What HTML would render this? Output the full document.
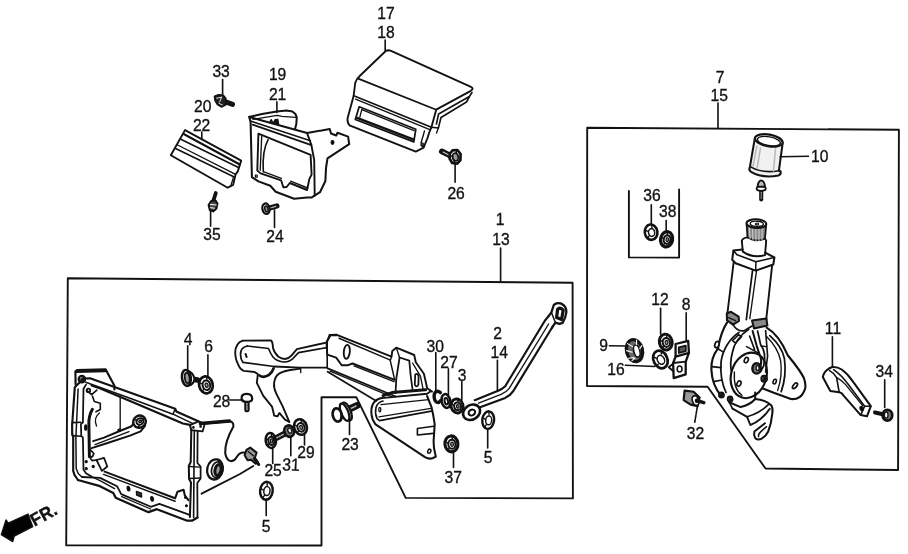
<!DOCTYPE html>
<html lang="en">
<head>
<meta charset="utf-8">
<title>Headlight retractor parts diagram</title>
<style>
html,body{margin:0;padding:0;background:#fff;}
body{width:908px;height:554px;overflow:hidden;}
svg{display:block;}
svg text{font-family:"Liberation Sans",sans-serif;fill:#111;stroke:#111;stroke-width:0.35;}
.ink{fill:none;stroke:#111;stroke-width:1.62;stroke-linecap:round;stroke-linejoin:round;}
</style>
</head>
<body>
<svg width="908" height="554" viewBox="0 0 908 554">
<rect x="0" y="0" width="908" height="554" fill="#fff"/>
<g class="ink" opacity="0.995">
<path d="M67.8,278.3 L572.6,282.8 L572.9,498.4 L405.7,497.9 L356.4,397.3 L321.5,397.3 L321.5,545.5 L66.2,545.3 Z" stroke-width="1.89"/>
<path d="M587.2,127.7 L898.9,129.8 L898.1,470.0 L765.5,468.5 L707.6,386.7 L587.0,386.0 Z" stroke-width="1.89"/>
<path d="M628.9,191.0 L628.9,257.4 L679.1,257.6 L679.1,189.5" stroke-width="1.89"/>
<line x1="500.6" y1="248.0" x2="500.6" y2="282.0"/>
<line x1="718.0" y1="103.0" x2="718.0" y2="128.0"/>
<path d="M185.0,130.1 L241.2,160.6 L237.8,171.4 L235.6,174.4 L233.1,185.0 L227.7,187.7 L170.8,155.2 Z" stroke-width="1.89"/>
<line x1="183.7" y1="134.0" x2="239.8" y2="164.5" stroke-width="2.03"/>
<line x1="180.3" y1="138.9" x2="238.5" y2="167.6"/>
<line x1="177.6" y1="145.0" x2="235.1" y2="174.1" stroke-width="1.35"/>
<line x1="175.6" y1="148.4" x2="233.7" y2="176.8"/>
<line x1="233.7" y1="176.8" x2="230.6" y2="186.4" stroke-width="1.35"/>
<path d="M249.2,116.9 L262.0,114.0 L276.8,111.5 L286.5,110.4 L292.4,111.4 L295.4,114.0 L296.8,117.4 L296.3,123.9 L295.2,128.4" stroke-width="2.03"/>
<path d="M253.0,119.3 L277.0,115.3 L282.0,116.3 L295.8,117.3" stroke-width="1.35"/>
<path d="M249.2,116.9 L307.1,133.1 L329.7,129.0 L331.0,133.5 L336.2,135.5 L337.5,132.8 L348.1,136.6 L349.2,144.2 L327.5,158.3 L326.0,168.0 L325.4,181.0 L320.0,192.2 L311.8,197.4 L307.1,197.6 L294.1,198.7 L275.7,191.7 L270.3,185.7 L258.4,181.4 L251.9,177.1 L250.6,122.0 L249.2,116.9" stroke-width="2.03"/>
<path d="M250.4,121.0 L310.4,140.7" stroke-width="1.49"/>
<path d="M252.6,124.6 L311.4,145.1" stroke-width="1.76"/>
<path d="M307.1,133.1 L311.4,145.1 L314.2,160.0 L314.7,195.5" stroke-width="1.89"/>
<path d="M258.4,133.7 L310.6,154.8 L311.6,174.6 L309.3,179.2 L307.1,190.0 L289.8,183.0 L286.6,187.0 L283.3,187.3 L281.1,180.3 L260.6,173.4 L257.3,170.6 Z" stroke-width="1.89"/>
<path d="M268.1,139.6 C264,147 262.6,160 263.3,171.7" stroke-width="1.62"/>
<path d="M263.3,171.7 L281.4,178.4" stroke-width="1.35"/>
<path d="M261.7,136.4 L260.2,170.2" stroke-width="1.35"/>
<path d="M290.6,181.2 L307.6,188.0" stroke-width="1.35"/>
<path d="M255.4,175.0 L257.2,175.0 L257.2,177.2 L255.4,177.2 Z" stroke-width="1.22"/>
<ellipse cx="332.5" cy="142.4" rx="1.3" ry="1.8" stroke-width="1.35" fill="#000"/>
<path d="M273.6,122.6 L275.2,119.6 L277.8,119.4 L278.6,123.8 Z" stroke-width="1.35" fill="#111"/>
<path d="M270.2,121.6 L271.2,119.8 L272.4,122.2" stroke-width="1.62"/>
<path d="M388.5,50.3 L386,50.8 L360.2,75.5 Q356.5,79 355.3,82.5 L353.6,96 L347.5,118.5 Q347.3,123 349.5,125.3 L415.8,151.6 L423.6,147.7 L427.5,138 L429.4,132 L431.4,127.3 L436.2,109.7 L470.8,90.8 Q474.6,88.5 470.4,86.7 L390.5,50.6 Z" stroke-width="1.89" fill="#fff"/>
<path d="M358.2,78.6 L436.2,109.7" stroke-width="1.76"/>
<path d="M354.4,96.0 L431.4,127.3" stroke-width="1.76"/>
<path d="M355.6,99.2 L430.4,129.8" stroke-width="1.35"/>
<path d="M472.0,92.5 L469.4,96.5 L438.6,114.0 L436.4,124.0" stroke-width="1.62"/>
<path d="M469.2,97.0 L466.5,102.0 L441.0,117.5 L438.4,128.0 L431.4,127.3" stroke-width="1.62"/>
<path d="M438.4,128.0 L436.5,133.0" stroke-width="1.35"/>
<path d="M359.2,106.8 L415.8,129.2 L413.8,141.9 L355.3,119.5 Z" stroke-width="1.76"/>
<path d="M361.8,109.6 L414.0,130.6" stroke-width="1.35"/>
<path d="M357.0,117.8 L413.2,139.4" stroke-width="2.43"/>
<path d="M361.8,109.6 L359.8,117.2" stroke-width="1.35"/>
<path d="M423.6,147.7 L421.0,143.0 L424.5,131.0" stroke-width="1.35"/>
<ellipse cx="422.2" cy="144.6" rx="1.2" ry="1.7" stroke-width="1.22" transform="rotate(20 422.2 144.6)"/>
<path d="M225.0,101.6 L232.6,104.4" stroke-width="4.86"/>
<path d="M214.6,96.4 L218.6,95.0 L223.0,95.2 L225.6,98.4 L225.8,104.6 L221.4,106.8 L217.6,104.4 L215.2,100.4 Z" stroke-width="1.89" fill="#222"/>
<path d="M216.6,98.2 L221.6,97.2 M221.6,97.2 L219.6,102 M219,103.4 L222.4,105" stroke="#ddd" stroke-width="1.0"/>
<path d="M215.8,193.0 L213.4,200.6" stroke-width="3.78"/>
<path d="M211.2,201.0 L215.6,200.6 L217.4,203.6 L216.4,208.6 L213.2,211.4 L209.8,210.0 L208.6,205.0 Z" stroke-width="2.03" fill="#444"/>
<path d="M210.4,204.4 L216.4,205.0 M210.6,207.6 L214.6,208.2" stroke="#eee" stroke-width="1.1"/>
<path d="M269.6,208.0 L276.8,206.0" stroke-width="5.40"/>
<path d="M270,208 L276.6,206.2" stroke="#bbb" stroke-width="1.3" stroke-dasharray="1.2 1.2"/>
<ellipse cx="266.0" cy="208.7" rx="3.6" ry="5.3" stroke-width="2.29" fill="#fff" transform="rotate(-12 266.0 208.7)"/>
<ellipse cx="266.4" cy="208.9" rx="1.6" ry="3.0" stroke-width="1.49" fill="#999" transform="rotate(-12 266.4 208.9)"/>
<path d="M451.6,156.2 L441.8,151.4" stroke-width="5.67"/>
<path d="M451,156 L442.2,151.6" stroke="#bbb" stroke-width="1.4" stroke-dasharray="1.2 1.3"/>
<path d="M452.6,150.4 L457.4,150.0 L460.6,154.0 L460.4,160.0 L457.2,163.6 L452.2,163.0 L449.6,158.6 L449.8,153.6 Z" stroke-width="2.70" fill="#fff"/>
<ellipse cx="455.4" cy="157.0" rx="2.9" ry="3.9" stroke-width="1.76" fill="#999" transform="rotate(-10 455.4 157.0)"/>
<path d="M450.4,155.6 L453,156.4 M456.6,150.6 L456.2,153.2 M453.6,162.6 L454.6,160.6" stroke-width="1.49"/>
<path d="M75.6,384.6 L75.4,371.6 L77.0,370.0 L105.7,369.4 L114.3,385.6 L114.4,389.5" stroke-width="2.16"/>
<path d="M76.6,371.4 L105.2,370.6" stroke-width="3.24"/>
<ellipse cx="81.9" cy="379.1" rx="3.2" ry="3.3" stroke-width="2.29" fill="#fff"/>
<ellipse cx="82.2" cy="379.3" rx="1.3" ry="1.4" stroke-width="1.35" fill="#888"/>
<ellipse cx="88.4" cy="390.4" rx="1.8" ry="1.8" stroke-width="1.76" fill="#fff"/>
<path d="M83.8,378.5 L90.0,378.3 L175.2,408.7 L176.3,411.4 L198.3,421.3" stroke-width="2.16"/>
<path d="M85.7,382.3 L130.0,398.2 L173.0,414.2 L193.0,423.6" stroke-width="1.49"/>
<path d="M91.6,385.4 L99.7,388.3 L130.0,401.0 L182.9,423.5 L189.9,424.9" stroke-width="2.16"/>
<path d="M175.2,408.7 L173.0,414.2" stroke-width="1.49"/>
<path d="M83.8,378.5 L76.5,385.6 L74.8,387.2 L72.4,421.5 L72.1,425.0 L72.2,434.5 L73.2,436.2 L73.2,470.9 L74.6,475.2 L78.0,480.0" stroke-width="2.16"/>
<path d="M78.1,389.0 L76.6,422.0 L75.9,437.0 L76.2,468.5 L78.2,473.5 L82.0,477.0" stroke-width="1.49"/>
<path d="M86.0,384.6 L83.5,388.8 L82.9,422.5 L80.9,424.2 L81.3,436.2 L82.9,437.4 L83.5,469.8 L86.0,473.2 L91.0,476.3" stroke-width="1.76"/>
<path d="M72.2,422.6 L80.9,422.2" stroke-width="1.62"/>
<path d="M72.3,435.6 L81.3,436.2" stroke-width="1.62"/>
<path d="M92.4,409.2 C89.6,414 88.6,420 88.9,425 L89.4,456.8" stroke-width="2.97"/>
<path d="M78.0,480.0 L100.0,486.2 L113.3,492.9 L115.7,497.7 L148.5,512.2 L156.9,509.2 L187.2,520.7 L192.4,520.6 L197.5,517.6" stroke-width="2.29"/>
<path d="M82.0,477.0 L100.0,477.9 L117.0,486.2 L121.2,494.1 L150.9,506.8 L159.4,503.8 L189.6,514.9" stroke-width="1.76"/>
<path d="M121.6,496.6 L150.6,509.0" stroke-width="1.35"/>
<path d="M91.0,476.3 L100.0,480.6 L114.6,488.6" stroke-width="1.35"/>
<path d="M104.6,471.6 L175.1,498.3 L177.5,491.7 L183.6,489.8 L184.8,495.3 L188.4,500.1" stroke-width="2.03"/>
<path d="M103.6,474.4 L175.1,501.3" stroke-width="1.49"/>
<ellipse cx="128.5" cy="488.6" rx="1.3" ry="2.3" stroke-width="1.35" fill="#000" transform="rotate(-10 128.5 488.6)"/>
<path d="M136.4,491.4 L141.4,493.2 L141.6,497.0 L136.6,495.0 Z" stroke-width="1.35" fill="#333"/>
<ellipse cx="152.1" cy="498.9" rx="1.3" ry="2.3" stroke-width="1.35" fill="#000" transform="rotate(-10 152.1 498.9)"/>
<ellipse cx="86.2" cy="461.7" rx="1.1" ry="1.1" stroke-width="1.08" fill="#000"/>
<ellipse cx="93.2" cy="466.5" rx="1.1" ry="1.1" stroke-width="1.08" fill="#000"/>
<ellipse cx="86.2" cy="468.7" rx="1.1" ry="1.1" stroke-width="1.08" fill="#000"/>
<ellipse cx="185.4" cy="497.6" rx="0.9" ry="0.9" stroke-width="1.08" fill="#000"/>
<ellipse cx="186.4" cy="505.8" rx="1.0" ry="1.0" stroke-width="1.08" fill="#000"/>
<path d="M189.9,424.9 L191.3,430.0 L190.7,462.0 L188.8,466.0 L189.1,479.0 L191.0,482.5 L189.9,517.0" stroke-width="2.03"/>
<path d="M194.3,431.0 L193.6,517.5" stroke-width="1.62"/>
<path d="M197.6,431.5 L197.4,463.0 L200.6,466.5 L200.6,478.5 L197.3,483.0 L197.5,517.6" stroke-width="1.76"/>
<path d="M189.2,466.5 L200.4,467.2" stroke-width="1.35"/>
<path d="M189.4,478.5 L200.4,478.0" stroke-width="1.35"/>
<path d="M189.8,425.2 L198.6,421.4 L203.0,423.2" stroke-width="1.89"/>
<path d="M191.0,430.2 L202.6,431.4 L204.4,425.2" stroke-width="1.76"/>
<ellipse cx="193.4" cy="427.4" rx="0.8" ry="0.8" stroke-width="1.08" fill="#000"/>
<ellipse cx="200.6" cy="426.4" rx="0.8" ry="0.8" stroke-width="1.08" fill="#000"/>
<path d="M93.2,441.1 L104.0,437.6 L120.4,430.8 L131.6,426.2 L134.6,421.5" stroke-width="2.03"/>
<path d="M91.6,448.1 L106.0,443.5 L130.0,435.6 L140.6,431.4 L145.2,425.6" stroke-width="2.03"/>
<path d="M95.0,444.6 L129.0,431.6" stroke-width="1.35"/>
<path d="M120.2,428.6 L117.6,430.0 L120.2,431.2" stroke-width="1.35"/>
<ellipse cx="139.5" cy="421.7" rx="6.4" ry="6.0" stroke-width="2.43" fill="#fff" transform="rotate(-30 139.5 421.7)"/>
<ellipse cx="139.9" cy="421.5" rx="3.6" ry="3.2" stroke-width="1.89" fill="#fff" transform="rotate(-30 139.9 421.5)"/>
<ellipse cx="140.2" cy="421.4" rx="1.4" ry="1.2" stroke-width="1.35" fill="#777" transform="rotate(-30 140.2 421.4)"/>
<path d="M134.4,419.4 L137,420.6 M138.4,427.4 L139.2,424.8 M144.4,418.2 L142.6,419.8" stroke-width="1.49"/>
<line x1="120.2" y1="395.8" x2="120.2" y2="430.1" stroke-width="1.35"/>
<path d="M86.8,390.5 L91.6,394.6 L96.8,390.2" stroke-width="1.76"/>
<path d="M92.5,396.2 L94.3,401.5 L100.3,403.3 L100.3,409.5 L96.0,411.8" stroke-width="1.62"/>
<path d="M99.5,413 C95.5,416 94.5,421 96.5,426" stroke-width="1.35"/>
<path d="M89.6,449.0 L93.8,453.5 L92.6,456.4 L90.0,457.6 L92.0,460.6 L96.5,460.0" stroke-width="1.76"/>
<path d="M96.5,460.0 L104.0,457.9 L107.3,466.5 L101.9,470.9 L96.5,460.0" stroke-width="1.76"/>
<ellipse cx="85.8" cy="427.6" rx="1.1" ry="2.6" stroke-width="1.35" fill="#000"/>
<path d="M203,423.8 L229,421.3 Q233.9,421.6 233.4,426.4 C228,436 224.8,445 225.2,453 C226.5,461.6 232.6,464 236.8,457 C239,453.2 241.6,452.2 244.4,452.6" stroke-width="2.03"/>
<path d="M200.5,423.6 L229.5,421.0" stroke-width="3.51"/>
<path d="M246.5,449.8 L250.2,447.6 L256.6,452.6 L254.8,458.0 L257.6,461.8 L255.6,463.8 L251.2,459.8 L247.6,460.2 L244.6,455.2 Z" stroke-width="2.03" fill="#999"/>
<path d="M254.5,458.5 L258.6,464.4" stroke-width="3.24"/>
<path d="M248.2,451.5 L253.4,455.8" stroke-width="1.35"/>
<path d="M253.3,466.0 L240.0,474.0 L201.6,493.7" stroke-width="1.89"/>
<ellipse cx="215.0" cy="469.4" rx="7.8" ry="10.2" stroke-width="2.29" fill="#fff" transform="rotate(12 215.0 469.4)"/>
<ellipse cx="217.0" cy="469.8" rx="5.4" ry="8.0" stroke-width="1.76" fill="#fff" transform="rotate(12 217.0 469.8)"/>
<ellipse cx="218.0" cy="470.0" rx="3.0" ry="5.6" stroke-width="2.97" fill="#999" transform="rotate(12 218.0 470.0)"/>
<path d="M242.7,340.6 L270.8,340.4 Q272.8,341.5 273,348.1 Q274.5,353.5 278.5,356.8 Q281.5,359 285,359 Q289,358.5 291.4,355.7 L296.9,349.2 L326.1,342.7 L330.4,335.4 L336.9,335.2" stroke-width="1.89"/>
<path d="M242.7,340.6 Q235.5,343 235.2,352.5 Q235.5,359.5 237.8,363.6 Q240,369.5 243.8,370.9 L254.6,372 L257.9,374.1 L256.8,382.8 L263.3,395.8 L272,406.6 L273.6,413 L274.1,415.6 L277.4,416.4 L279.5,413.1 L285,419.6 L289.3,421.8" stroke-width="1.89"/>
<path d="M289.3,421.8 L282.8,406.6 L276.3,393.6 Q273.5,388 274.1,382.8 Q275,376.5 278.5,374.1 Q282,371.5 289,370.2 L300.1,368.6" stroke-width="1.89"/>
<path d="M247.2,346 Q240.4,347.4 240.5,354.5 Q240.6,359.5 243,362.4 L274.1,366.5 L300.1,367.6 L327.2,367.6" stroke-width="1.76"/>
<path d="M247.2,346 L268.5,348.5 Q270.2,353 273,357 Q277,361.6 284,362 Q290.5,361.6 294,357.4 L298.5,352.6 L326.6,347.6" stroke-width="1.62"/>
<path d="M245.6,354.0 L246.6,357.0" stroke-width="2.03"/>
<path d="M259.5,375.5 Q263.5,378.2 268.6,375.2 Q272.6,372 273.6,368.4" stroke-width="2.70"/>
<line x1="327.2" y1="341.8" x2="327.2" y2="367.6" stroke-width="1.62"/>
<line x1="300.6" y1="367.6" x2="300.8" y2="372.6" stroke-width="1.35"/>
<path d="M329.7,334.9 L336.2,334.7 L391.5,356.7 L392.3,351.0 L396.3,347.7 L414.2,355.0 L415.8,362.3 L423.9,373.7 L427.2,388.3 L432.0,391.6" stroke-width="1.89"/>
<path d="M329.7,334.9 L326.5,342.9 L327.3,354.6 L336.2,357.6 L341.7,365.2 L348.1,365.2 L352.5,363.5 L394.7,379.8" stroke-width="1.89"/>
<path d="M339.0,338.2 L389.8,359.9" stroke-width="1.49"/>
<path d="M354.0,365.9 L394.0,381.7" stroke-width="1.35"/>
<path d="M327.6,368.4 L395.8,396.5" stroke-width="1.89"/>
<path d="M330.0,371.2 L392.0,396.8" stroke-width="1.35"/>
<path d="M327.6,371.7 L376.3,400.9" stroke-width="1.76"/>
<ellipse cx="346.8" cy="351.8" rx="3.0" ry="7.0" stroke-width="1.89" transform="rotate(6 346.8 351.8)"/>
<path d="M391.5,356.7 L390.2,360.4 L394.7,379.8" stroke-width="1.49"/>
<path d="M399.6,357.5 L409.3,360.7 L410.6,375.0 L412.6,390.0" stroke-width="1.76"/>
<path d="M399.6,357.5 L396.3,378.6 L395.5,393.2" stroke-width="1.76"/>
<path d="M396.3,347.7 L399.6,357.5" stroke-width="1.35"/>
<path d="M415.2,374.6 Q417.6,372.6 418.6,376.6 L418.4,384.6 Q416.6,388 414.8,384.6 Z" stroke-width="1.76"/>
<path d="M412.6,363.0 L420.4,376.2 L423.2,389.6" stroke-width="1.35"/>
<path d="M381.6,398.1 Q374.5,399.6 372.2,405.6 Q370.2,411.5 372.6,419.2 L375.2,424.1 L425,457.2 Q429.3,459.6 433,458 L435.8,456.6 L434,448 L433.6,441.4 L434.7,424.1 L433,414 L431.4,406.8 L427.1,396" stroke-width="2.03"/>
<path d="M381.6,398.1 L427.1,393.8 L430.4,391.4" stroke-width="1.89"/>
<path d="M383.0,395.6 L392.0,392.6 L425.6,389.8" stroke-width="2.97"/>
<path d="M383,401 Q377.6,402.2 376,407.6 Q374.6,413 377,418.6 L379.5,420.6 L431.4,411.1" stroke-width="1.62"/>
<path d="M381.0,404.6 L428.6,399.6" stroke-width="1.35"/>
<path d="M379.0,416.8 L431.0,408.4" stroke-width="1.35"/>
<ellipse cx="379.8" cy="409.6" rx="1.0" ry="2.2" stroke-width="1.35"/>
<path d="M433.6,426.3 L417.4,428.5 L417.4,435.0 L433.4,433.4" stroke-width="1.62"/>
<ellipse cx="429.3" cy="451.2" rx="1.5" ry="2.1" stroke-width="1.49" transform="rotate(20 429.3 451.2)"/>
<path d="M474.7,400.2 L498.1,390.8 Q502.6,388.8 505.2,386.2 L545,320.5 L548.4,316.4" stroke-width="2.16"/>
<path d="M479.4,407.6 L505.2,397.9 Q510.6,395.2 513.4,390.8 L552.1,327.5" stroke-width="2.16"/>
<path d="M478.6,403.2 L501,394.4 Q506.6,392 509.2,388.4 L548.6,324" stroke-width="1.35"/>
<ellipse cx="471.6" cy="412.3" rx="9.0" ry="7.2" stroke-width="2.56" fill="#fff" transform="rotate(-32 471.6 412.3)"/>
<ellipse cx="471.9" cy="412.6" rx="3.4" ry="2.8" stroke-width="2.03" transform="rotate(-32 471.9 412.6)"/>
<path d="M548.4,316.4 L551.4,312.4 L553.8,305.0 Q556.2,302.2 560.6,303.4 Q566.8,306 566.3,312.6 Q565.6,318.4 562.6,322.8 L559.4,323.8 L555.4,322.6 L552.1,327.5" stroke-width="2.29"/>
<path d="M557.6,309.2 Q560.6,307.0 563.2,310.2 L561.6,319.6 L556.6,317.6 Z" stroke-width="3.24"/>
<path d="M551.4,312.4 L555.4,322.6" stroke-width="1.49"/>
<path d="M190.0,378.6 L197.6,380.0" stroke-width="5.40"/>
<path d="M186.6,370.2 Q193.6,372.6 194.4,378.6 Q194.2,384.6 187.6,385.8" stroke-width="2.03" fill="#fff"/>
<ellipse cx="186.4" cy="377.9" rx="4.4" ry="8.0" stroke-width="2.56" fill="#fff" transform="rotate(-8 186.4 377.9)"/>
<ellipse cx="187.2" cy="378.0" rx="2.4" ry="5.2" stroke-width="1.76" fill="#999" transform="rotate(-8 187.2 378.0)"/>
<ellipse cx="205.9" cy="384.9" rx="6.8" ry="8.5" stroke-width="2.70" fill="#fff" transform="rotate(-12 205.9 384.9)"/>
<ellipse cx="206.4" cy="385.2" rx="3.8" ry="4.8" stroke-width="2.03" fill="#fff" transform="rotate(-12 206.4 385.2)"/>
<ellipse cx="206.6" cy="385.3" rx="1.5" ry="2.2" stroke-width="1.22" fill="#999" transform="rotate(-12 206.6 385.3)"/>
<path d="M199.8,382.8 L202.5,384.0 M202.2,391.3 L203.9,389.1 M206.6,376.8 L206.9,379.8" stroke-width="1.35"/>
<path d="M246.9,402.0 L247.0,409.6" stroke-width="5.40"/>
<path d="M246.9,403.5 L247,409.5" stroke="#ccc" stroke-width="1.3" stroke-dasharray="1.2 1.4"/>
<path d="M241.6,399.0 Q241.0,393.8 246.6,393.8 Q252.4,393.8 252.2,399.0 Q252.0,401.8 246.9,401.8 Q242.0,402.0 241.6,399.0 Z" stroke-width="2.29" fill="#fff"/>
<ellipse cx="270.8" cy="440.5" rx="5.1" ry="7.5" stroke-width="2.56" fill="#fff" transform="rotate(-8 270.8 440.5)"/>
<ellipse cx="271.3" cy="440.8" rx="2.9" ry="4.2" stroke-width="2.03" fill="#fff" transform="rotate(-8 271.3 440.8)"/>
<ellipse cx="271.5" cy="440.9" rx="1.1" ry="2.0" stroke-width="1.22" fill="#999" transform="rotate(-8 271.5 440.9)"/>
<path d="M266.2,438.6 L268.2,439.8 M268.0,446.1 L269.3,444.2 M271.3,433.4 L271.6,436.0" stroke-width="1.35"/>
<path d="M286.0,433.0 L275.6,438.4" stroke-width="5.94"/>
<path d="M285,433.5 L276,438.2" stroke="#bbb" stroke-width="1.4" stroke-dasharray="1.3 1.3"/>
<ellipse cx="289.2" cy="431.1" rx="4.8" ry="5.8" stroke-width="2.70" fill="#777" transform="rotate(-20 289.2 431.1)"/>
<ellipse cx="289.8" cy="430.6" rx="2.0" ry="2.6" stroke-width="1.35" fill="#ddd" transform="rotate(-20 289.8 430.6)"/>
<ellipse cx="300.5" cy="427.0" rx="6.3" ry="7.9" stroke-width="2.56" fill="#fff" transform="rotate(-18 300.5 427.0)"/>
<ellipse cx="301.0" cy="427.3" rx="3.5" ry="4.4" stroke-width="2.03" fill="#fff" transform="rotate(-18 301.0 427.3)"/>
<ellipse cx="301.2" cy="427.4" rx="1.4" ry="2.1" stroke-width="1.22" fill="#999" transform="rotate(-18 301.2 427.4)"/>
<path d="M294.8,425.0 L297.4,426.2 M297.0,432.9 L298.6,430.9 M301.1,419.5 L301.4,422.3" stroke-width="1.35"/>
<ellipse cx="266.4" cy="490.8" rx="6.3" ry="9.0" stroke-width="2.43" fill="#fff" transform="rotate(6 266.4 490.8)"/>
<ellipse cx="266.9" cy="491.1" rx="3.1" ry="4.5" stroke-width="1.49" fill="#fff" transform="rotate(6 266.9 491.1)"/>
<path d="M260.7,488.6 L263.2,489.9 M262.9,497.6 L264.5,495.3 M267.0,482.2 L267.3,485.4" stroke-width="1.35"/>
<path d="M349.0,409.2 L357.2,405.4" stroke-width="7.02"/>
<path d="M350,408.8 L357,405.6" stroke="#bbb" stroke-width="1.6" stroke-dasharray="1.3 1.3"/>
<ellipse cx="347.0" cy="411.4" rx="3.6" ry="9.4" stroke-width="2.29" fill="#fff" transform="rotate(-22 347.0 411.4)"/>
<ellipse cx="344.6" cy="412.2" rx="3.6" ry="9.2" stroke-width="2.29" fill="#fff" transform="rotate(-22 344.6 412.2)"/>
<ellipse cx="337.2" cy="414.9" rx="4.5" ry="6.7" stroke-width="2.70" fill="#fff" transform="rotate(-12 337.2 414.9)"/>
<path d="M339.4,409.4 Q342.4,413.6 340.6,420" stroke-width="1.62"/>
<path d="M440.4,392.6 C436.6,389.2 433.6,392.6 434.2,397.4 C434.8,402.6 438.4,404 440.6,400.6" stroke-width="3.38"/>
<ellipse cx="446.0" cy="401.0" rx="4.3" ry="7.0" stroke-width="2.56" fill="#fff" transform="rotate(-12 446.0 401.0)"/>
<ellipse cx="446.3" cy="401.2" rx="1.7" ry="3.2" stroke-width="2.03" fill="#fff" transform="rotate(-12 446.3 401.2)"/>
<ellipse cx="457.1" cy="406.0" rx="6.0" ry="7.0" stroke-width="2.84" fill="#fff" transform="rotate(-15 457.1 406.0)"/>
<ellipse cx="457.6" cy="406.3" rx="3.4" ry="3.9" stroke-width="2.03" fill="#fff" transform="rotate(-15 457.6 406.3)"/>
<ellipse cx="457.8" cy="406.4" rx="1.3" ry="1.8" stroke-width="1.22" fill="#999" transform="rotate(-15 457.8 406.4)"/>
<path d="M451.7,404.2 L454.1,405.3 M453.8,411.2 L455.3,409.5 M457.7,399.4 L458.0,401.8" stroke-width="1.35"/>
<ellipse cx="488.2" cy="420.1" rx="5.9" ry="8.8" stroke-width="2.43" fill="#fff" transform="rotate(6 488.2 420.1)"/>
<ellipse cx="488.7" cy="420.4" rx="3.0" ry="4.4" stroke-width="1.49" fill="#fff" transform="rotate(6 488.7 420.4)"/>
<path d="M482.9,417.9 L485.2,419.2 M485.0,426.7 L486.4,424.5 M488.8,411.7 L489.1,414.8" stroke-width="1.35"/>
<ellipse cx="451.4" cy="443.9" rx="6.5" ry="8.0" stroke-width="3.10" fill="#fff" transform="rotate(-5 451.4 443.9)"/>
<ellipse cx="451.9" cy="444.2" rx="3.6" ry="4.5" stroke-width="2.03" fill="#fff" transform="rotate(-5 451.9 444.2)"/>
<ellipse cx="452.1" cy="444.3" rx="1.4" ry="2.1" stroke-width="1.22" fill="#999" transform="rotate(-5 452.1 444.3)"/>
<path d="M445.5,441.9 L448.1,443.1 M447.8,449.9 L449.4,447.9 M452.0,436.3 L452.4,439.1" stroke-width="1.35"/>
<path d="M754.9,137.9 L749.9,166.9 Q748.4,169.6 750.6,171.6 Q762,178.6 778.6,175.4 Q781.4,174 780.6,171.2 L778.9,170.7 L782.7,142.9" stroke-width="2.03" fill="#f1f1f1"/>
<path d="M750.2,166.6 Q762,173.8 778.9,170.7" stroke-width="1.62"/>
<ellipse cx="768.8" cy="140.4" rx="14.0" ry="5.9" stroke-width="2.16" fill="#fff" transform="rotate(10 768.8 140.4)"/>
<ellipse cx="768.9" cy="141.2" rx="11.6" ry="4.4" stroke-width="1.35" transform="rotate(10 768.9 141.2)"/>
<path d="M757,146 L753,166 M760.5,148 L757,168.5 M775.5,149 L773.5,171" stroke="#bbb" stroke-width="1.6" fill="none"/>
<path d="M761.2,187.5 L761.2,199.5" stroke-width="4.05"/>
<path d="M761.2,190 L761.2,199" stroke="#bbb" stroke-width="1.0" stroke-dasharray="1.2 1.2"/>
<ellipse cx="761.2" cy="188.6" rx="4.6" ry="2.3" stroke-width="1.76" fill="#fff"/>
<path d="M757.6,186.6 Q758,181.2 761.2,180.4 Q764.6,181 765,186.8 Z" stroke-width="1.89" fill="#bbb"/>
<path d="M746.6,224.2 L747.5,237.5 Q756,242.6 765,238.7 L766.2,224.6 Z" stroke-width="1.76" fill="#888"/>
<path d="M749.5,228 L750,239 M752.6,229 L753,240.4 M755.8,229.4 L756,240.8 M759,229.4 L759,240.6 M762.2,228.8 L762,239.8" stroke="#ddd" stroke-width="0.9"/>
<ellipse cx="756.4" cy="223.6" rx="9.9" ry="4.3" stroke-width="2.03" fill="#fff" transform="rotate(3 756.4 223.6)"/>
<ellipse cx="756.8" cy="223.8" rx="6.6" ry="2.6" stroke-width="1.35" transform="rotate(3 756.8 223.8)"/>
<ellipse cx="757.0" cy="223.9" rx="1.6" ry="0.9" stroke-width="1.22"/>
<path d="M741.8,240.6 L742.8,251.6 Q753,258.6 765,255.1 L766.2,241" stroke-width="1.89"/>
<path d="M741.8,240.6 Q743,238 747.4,237.4" stroke-width="1.62"/>
<path d="M766.2,241 Q765.8,239.4 765,238.7" stroke-width="1.62"/>
<path d="M742.6,249.4 L733.4,250.6 L732.2,259.8 L735.6,263.2 L755.7,270.6 L773.3,264.5 L774.4,257.5 L765.2,252.6" stroke-width="2.03"/>
<path d="M733.4,250.6 L737,254.8 L755.9,261.8 L774.4,257.5" stroke-width="1.62"/>
<path d="M755.9,261.8 L755.7,270.6" stroke-width="1.49"/>
<path d="M733.6,262.6 L727.5,312.6" stroke-width="1.89"/>
<path d="M752.6,270.0 L746.3,319.6" stroke-width="1.76"/>
<path d="M756.6,270.2 L749.8,318.6" stroke-width="1.35"/>
<path d="M772.1,265.7 L766.2,319.6" stroke-width="1.89"/>
<path d="M726.8,313.5 L731.0,311.8 L738.6,316.6 L739.0,321.0 L733.0,324.6 L727.0,320.4 Z" stroke-width="2.03" fill="#888"/>
<path d="M728.6,317.6 L735.6,320.6" stroke-width="1.35"/>
<path d="M752.0,320.4 L766.4,318.6 L767.4,325.6 L754.0,328.4 Z" stroke-width="2.03" fill="#888"/>
<path d="M727,322.6 C722,330 719.5,340 717.9,348.7 C713,355 711,362 711.4,370 C711.8,380 714.6,388 721.1,395.7" stroke-width="2.16"/>
<path d="M739,332.5 C730,338 722.5,350 721.1,361.7 C720.2,372 722,384 726,392.5" stroke-width="1.76"/>
<path d="M748.7,329.2 C740,335 734,344 732.5,352 C730.4,360 730.4,368 731.7,373" stroke-width="1.76"/>
<path d="M733,324.6 C735.6,329 739.6,331.6 744.6,330.6 L752,326" stroke-width="1.76"/>
<path d="M717.9,348.7 L722.6,351.6 M711.8,366.6 L721,367.6 M713.6,381.6 L722,380" stroke-width="1.62"/>
<ellipse cx="716.9" cy="344.6" rx="2.0" ry="3.2" stroke-width="1.76" fill="#fff" transform="rotate(20 716.9 344.6)"/>
<path d="M732.5,340.6 L738.6,334.6 L741.6,336.6 L735.6,343 Z" stroke-width="1.62"/>
<path d="M766.6,327.6 C776,333 783,344 787.7,355.2 C795,364 801,372 803.9,378 C806,384 805.6,389 803.9,391.6 C801.6,397 797.4,399.6 790.9,399 L773.1,392.5 L758.5,386.8" stroke-width="2.16"/>
<path d="M769.8,335.7 C778,343 783,352 784.4,358.5 C786,370 784.6,382 781.2,391.6" stroke-width="1.76"/>
<path d="M766.6,336.6 C774,344 779,353 780.6,360.5 C782,371 780.6,382 777.6,390.6" stroke-width="1.35"/>
<ellipse cx="774.7" cy="381.6" rx="1.5" ry="2.4" stroke-width="1.62" transform="rotate(20 774.7 381.6)"/>
<ellipse cx="795.0" cy="385.8" rx="1.7" ry="3.3" stroke-width="1.76" transform="rotate(40 795.0 385.8)"/>
<ellipse cx="748.8" cy="375.4" rx="17.6" ry="23.2" stroke-width="2.16" fill="#fff" transform="rotate(17 748.8 375.4)"/>
<path d="M734.4,372 C733.6,383 736.6,391.6 742,395.4" stroke-width="1.35"/>
<ellipse cx="746.3" cy="360.1" rx="1.9" ry="2.8" stroke-width="1.62" transform="rotate(25 746.3 360.1)"/>
<ellipse cx="739.0" cy="383.6" rx="1.9" ry="2.8" stroke-width="1.62" transform="rotate(25 739.0 383.6)"/>
<ellipse cx="756.6" cy="368.4" rx="4.2" ry="5.2" stroke-width="2.43" fill="#777"/>
<ellipse cx="757.6" cy="368.0" rx="1.6" ry="2.4" stroke-width="1.35" fill="#fff"/>
<path d="M752.6,331 L756.6,345.6 L759.6,354.6 C761.6,359 761.6,364 759.6,367.6" stroke-width="2.03"/>
<path d="M757.6,331 L760.6,344.6 C764.6,350 765.6,358 763.6,366 L760.6,371.6" stroke-width="1.76"/>
<path d="M749.6,336 L754.6,349.6 M746.6,346.6 L757.6,352.6 M765.6,330.6 L767.6,356 L765.6,372" stroke-width="1.62"/>
<path d="M761,346 L766.6,346.6" stroke-width="1.35"/>
<ellipse cx="764.1" cy="378.8" rx="2.8" ry="3.0" stroke-width="1.89" fill="#fff"/>
<ellipse cx="764.9" cy="379.3" rx="2.0" ry="2.1" stroke-width="1.35" fill="#bbb"/>
<ellipse cx="764.9" cy="379.3" rx="0.8" ry="0.9" stroke-width="1.62" fill="#fff"/>
<ellipse cx="721.3" cy="394.9" rx="2.4" ry="2.6" stroke-width="1.76" fill="#fff"/>
<ellipse cx="722.1" cy="395.4" rx="1.9" ry="2.0" stroke-width="1.35" fill="#bbb"/>
<ellipse cx="722.1" cy="395.4" rx="0.7" ry="0.8" stroke-width="1.62" fill="#fff"/>
<ellipse cx="730.0" cy="399.0" rx="2.4" ry="2.6" stroke-width="1.76" fill="#fff"/>
<ellipse cx="730.8" cy="399.5" rx="1.9" ry="2.0" stroke-width="1.35" fill="#bbb"/>
<ellipse cx="730.8" cy="399.5" rx="0.7" ry="0.8" stroke-width="1.62" fill="#fff"/>
<path d="M729.2,402.2 L740.6,407.1 C747,405.6 752,402.6 755.2,399 L755.2,392.5" stroke-width="2.03"/>
<path d="M755.2,399 C762,399.6 768,402 771.4,405.5 C772.8,408 772.8,411 772.3,413.6 C771.6,421 770,427 768.2,431.5 C766.6,435 764.6,437 761.7,438.6 C759,440 756,439.6 755.2,438 C754,436 753.8,433.6 754.4,431.5 L765,423.3" stroke-width="2.03"/>
<path d="M732.5,408.7 L747.1,416.8 L750.3,425 C757,423 765,416 769.8,408.7" stroke-width="1.89"/>
<path d="M729.2,402.2 L732.5,408.7 M747.1,416.8 C755,414.6 763,410 768.6,404.4" stroke-width="1.62"/>
<path d="M758.6,436.6 C757.6,434.6 759,432.6 766.6,426.6" stroke-width="1.49"/>
<ellipse cx="651.1" cy="232.2" rx="6.3" ry="7.7" stroke-width="2.56" fill="#fff" transform="rotate(-8 651.1 232.2)"/>
<ellipse cx="651.6" cy="232.5" rx="3.1" ry="3.9" stroke-width="1.49" fill="#fff" transform="rotate(-8 651.6 232.5)"/>
<path d="M645.4,230.3 L648.0,231.4 M647.6,238.0 L649.2,236.0 M651.7,224.9 L652.0,227.6" stroke-width="1.35"/>
<ellipse cx="666.6" cy="239.3" rx="6.0" ry="7.7" stroke-width="3.24" fill="#fff" transform="rotate(12 666.6 239.3)"/>
<ellipse cx="667.1" cy="239.6" rx="3.4" ry="4.3" stroke-width="2.03" fill="#fff" transform="rotate(12 667.1 239.6)"/>
<ellipse cx="667.3" cy="239.7" rx="1.3" ry="2.0" stroke-width="1.22" fill="#999" transform="rotate(12 667.3 239.7)"/>
<path d="M661.2,237.4 L663.6,238.5 M663.3,245.1 L664.8,243.2 M667.2,232.0 L667.5,234.7" stroke-width="1.35"/>
<ellipse cx="665.8" cy="342.1" rx="6.4" ry="8.0" stroke-width="2.97" fill="#fff" transform="rotate(-10 665.8 342.1)"/>
<ellipse cx="666.3" cy="342.4" rx="3.6" ry="4.5" stroke-width="2.03" fill="#fff" transform="rotate(-10 666.3 342.4)"/>
<ellipse cx="666.5" cy="342.5" rx="1.4" ry="2.1" stroke-width="1.22" fill="#999" transform="rotate(-10 666.5 342.5)"/>
<path d="M660.0,340.1 L662.6,341.3 M662.3,348.1 L663.9,346.1 M666.4,334.5 L666.8,337.3" stroke-width="1.35"/>
<ellipse cx="660.4" cy="359.5" rx="6.9" ry="9.2" stroke-width="2.70" fill="#fff" transform="rotate(-25 660.4 359.5)"/>
<ellipse cx="660.9" cy="359.8" rx="3.5" ry="4.6" stroke-width="1.49" fill="#fff" transform="rotate(-25 660.9 359.8)"/>
<path d="M654.2,357.2 L656.9,358.6 M656.6,366.4 L658.3,364.1 M661.1,350.8 L661.4,354.0" stroke-width="1.35"/>
<ellipse cx="634.5" cy="350.6" rx="8.0" ry="11.2" stroke-width="3.24" fill="#666" transform="rotate(-14 634.5 350.6)"/>
<ellipse cx="636.8" cy="351.0" rx="3.0" ry="6.2" stroke-width="1.62" fill="#fff" transform="rotate(-14 636.8 351.0)"/>
<path d="M627.5,343.6 L632.6,346.6 M626.6,350.6 L632.2,352.2 M628.6,358.2 L633.6,357.6 M636.6,340 L636.4,344.6 M641.8,345.6 L639.8,348.6 M632,360.6 L635,358" stroke="#fff" stroke-width="1.1"/>
<path d="M675.6,344.0 L688.2,340.9 L688.9,352.9 L675.6,356.6 Z" stroke-width="2.29" fill="#fff"/>
<path d="M678.8,347.4 L685.8,345.6 L685.8,351.2 L678.8,353.0 Z" stroke-width="1.76" fill="#555"/>
<path d="M675.6,356.6 L673.1,363.0 L673.7,378.1 L685.7,374.3 L685.7,361.7 L688.9,352.9" stroke-width="2.29"/>
<path d="M673.1,363.0 L685.7,361.7" stroke-width="1.76"/>
<ellipse cx="679.6" cy="369.0" rx="2.4" ry="3.0" stroke-width="1.62"/>
<path d="M673.1,363.6 L668.8,367.2 L673.4,371.4" stroke-width="1.89"/>
<path d="M684.6,390.6 L693.6,391.8 L699.6,397.6 L697.6,406.2 L690.6,404.6 L683.6,400.2 Z" stroke-width="2.16" fill="#999"/>
<ellipse cx="695.6" cy="400.6" rx="3.2" ry="5.0" stroke-width="1.76" fill="#fff" transform="rotate(-20 695.6 400.6)"/>
<path d="M697.0,400.6 L703.8,402.6" stroke-width="3.51"/>
<ellipse cx="696.6" cy="400.8" rx="1.2" ry="1.6" stroke-width="1.35" fill="#000"/>
<path d="M875.0,412.4 L884.0,414.4" stroke-width="4.05"/>
<ellipse cx="887.4" cy="415.2" rx="4.8" ry="5.4" stroke-width="2.70" fill="#777"/>
<ellipse cx="886.2" cy="415.0" rx="1.8" ry="3.2" stroke-width="1.35" fill="#fff"/>
<path d="M822.8,377.1 Q824,370.5 831.6,367.2 Q837,366.6 841.7,369.5 Q848,374 853,381.6 L870.8,406.2 L867,416.3 L860.7,415.1 L843.6,395.6 Q841.6,392.6 839.2,392.3 L830.3,391 Z" stroke-width="2.03" fill="#fff"/>
<path d="M829.6,370.6 Q833.6,372.6 836.6,377.6 L839.2,392.3" stroke-width="1.62"/>
<path d="M833.6,369.6 Q842,375.6 847.6,383.6 L864.6,406.2 L860.7,415.1" stroke-width="1.62"/>
<path d="M836.6,377.6 Q841,379.6 845.6,384.6 L862.6,405.6" stroke-width="1.35"/>
<path d="M864.6,406.2 L870.8,406.2" stroke-width="1.35"/>
<ellipse cx="861.6" cy="408.6" rx="1.5" ry="2.2" stroke-width="1.35" fill="#000" transform="rotate(-20 861.6 408.6)"/>
<path d="M1.3,534.7 L6.0,520.0 L8.3,523.2 L28.0,514.0 L32.7,526.7 L14.2,536.2 L12.7,541.6 Z" stroke-width="1.35" fill="#000"/>
<text transform="translate(34.6,526.8) rotate(-29)" font-size="18" font-weight="bold" stroke-width="0.9" textLength="27.5" lengthAdjust="spacingAndGlyphs">FR.</text>
<text transform="translate(386.0,18.5) scale(0.9,1)" font-size="17.4" text-anchor="middle">17</text>
<text transform="translate(386.0,37.6) scale(0.9,1)" font-size="17.4" text-anchor="middle">18</text>
<line x1="385.2" y1="40.0" x2="385.2" y2="50.5"/>
<text transform="translate(221.1,77.2) scale(0.9,1)" font-size="17.4" text-anchor="middle">33</text>
<line x1="222.6" y1="79.5" x2="222.6" y2="94.0"/>
<text transform="translate(277.6,80.2) scale(0.9,1)" font-size="17.4" text-anchor="middle">19</text>
<text transform="translate(277.6,99.6) scale(0.9,1)" font-size="17.4" text-anchor="middle">21</text>
<line x1="276.9" y1="101.9" x2="276.9" y2="112.5"/>
<text transform="translate(202.8,112.4) scale(0.9,1)" font-size="17.4" text-anchor="middle">20</text>
<text transform="translate(201.6,131.4) scale(0.9,1)" font-size="17.4" text-anchor="middle">22</text>
<line x1="201.8" y1="132.0" x2="201.8" y2="139.6"/>
<text transform="translate(211.9,240.3) scale(0.9,1)" font-size="17.4" text-anchor="middle">35</text>
<line x1="210.6" y1="211.0" x2="210.6" y2="226.3"/>
<text transform="translate(275.0,242.3) scale(0.9,1)" font-size="17.4" text-anchor="middle">24</text>
<line x1="274.5" y1="209.8" x2="274.5" y2="227.5"/>
<text transform="translate(456.1,199.0) scale(0.9,1)" font-size="17.4" text-anchor="middle">26</text>
<line x1="455.1" y1="163.9" x2="455.1" y2="182.3"/>
<text transform="translate(500.0,225.4) scale(0.9,1)" font-size="17.4" text-anchor="middle">1</text>
<text transform="translate(501.0,245.2) scale(0.9,1)" font-size="17.4" text-anchor="middle">13</text>
<text transform="translate(720.0,82.8) scale(0.9,1)" font-size="17.4" text-anchor="middle">7</text>
<text transform="translate(719.2,101.3) scale(0.9,1)" font-size="17.4" text-anchor="middle">15</text>
<text transform="translate(819.8,162.4) scale(0.9,1)" font-size="17.4" text-anchor="middle">10</text>
<line x1="780.2" y1="156.8" x2="808.5" y2="156.3"/>
<text transform="translate(651.9,201.4) scale(0.9,1)" font-size="17.4" text-anchor="middle">36</text>
<line x1="651.3" y1="204.7" x2="651.3" y2="223.5"/>
<text transform="translate(667.8,216.8) scale(0.9,1)" font-size="17.4" text-anchor="middle">38</text>
<line x1="666.2" y1="220.6" x2="666.2" y2="232.5"/>
<text transform="translate(660.0,304.8) scale(0.9,1)" font-size="17.4" text-anchor="middle">12</text>
<line x1="660.6" y1="308.2" x2="660.6" y2="334.1"/>
<text transform="translate(686.0,310.4) scale(0.9,1)" font-size="17.4" text-anchor="middle">8</text>
<line x1="686.2" y1="312.9" x2="686.2" y2="340.6"/>
<text transform="translate(603.5,350.6) scale(0.9,1)" font-size="17.4" text-anchor="middle">9</text>
<line x1="609.4" y1="345.7" x2="626.0" y2="346.0"/>
<text transform="translate(616.0,374.7) scale(0.9,1)" font-size="17.4" text-anchor="middle">16</text>
<line x1="625.3" y1="365.2" x2="654.9" y2="366.5"/>
<text transform="translate(695.5,439.0) scale(0.9,1)" font-size="17.4" text-anchor="middle">32</text>
<line x1="697.3" y1="406.8" x2="694.7" y2="422.7" stroke-dasharray="3 1.2"/>
<text transform="translate(833.0,333.7) scale(0.9,1)" font-size="17.4" text-anchor="middle">11</text>
<line x1="832.4" y1="336.7" x2="832.4" y2="367.0"/>
<text transform="translate(884.2,377.2) scale(0.9,1)" font-size="17.4" text-anchor="middle">34</text>
<line x1="884.7" y1="379.7" x2="884.7" y2="407.5"/>
<text transform="translate(188.0,345.2) scale(0.9,1)" font-size="17.4" text-anchor="middle">4</text>
<line x1="187.7" y1="345.9" x2="187.7" y2="369.8"/>
<text transform="translate(208.5,352.3) scale(0.9,1)" font-size="17.4" text-anchor="middle">6</text>
<line x1="207.9" y1="354.7" x2="207.9" y2="376.2"/>
<text transform="translate(221.6,407.2) scale(0.9,1)" font-size="17.4" text-anchor="middle">28</text>
<line x1="229.4" y1="400.0" x2="242.8" y2="400.0"/>
<text transform="translate(273.1,476.4) scale(0.9,1)" font-size="17.4" text-anchor="middle">25</text>
<line x1="272.7" y1="447.0" x2="272.7" y2="463.4"/>
<text transform="translate(290.8,470.6) rotate(3) scale(0.9,1)" font-size="17.4" text-anchor="middle">31</text>
<line x1="290.8" y1="437.4" x2="290.8" y2="455.8"/>
<text transform="translate(305.9,458.2) scale(0.9,1)" font-size="17.4" text-anchor="middle">29</text>
<line x1="304.5" y1="433.0" x2="304.5" y2="445.0"/>
<text transform="translate(266.0,531.8) scale(0.9,1)" font-size="17.4" text-anchor="middle">5</text>
<line x1="266.2" y1="499.0" x2="266.2" y2="515.6"/>
<text transform="translate(350.1,450.4) scale(0.9,1)" font-size="17.4" text-anchor="middle">23</text>
<line x1="349.5" y1="417.0" x2="349.5" y2="434.6"/>
<text transform="translate(435.3,351.5) scale(0.9,1)" font-size="17.4" text-anchor="middle">30</text>
<line x1="435.8" y1="352.5" x2="435.8" y2="391.4"/>
<text transform="translate(449.0,368.2) scale(0.9,1)" font-size="17.4" text-anchor="middle">27</text>
<line x1="448.4" y1="368.7" x2="448.4" y2="394.7"/>
<text transform="translate(462.0,380.7) scale(0.9,1)" font-size="17.4" text-anchor="middle">3</text>
<line x1="461.8" y1="381.7" x2="461.8" y2="400.1"/>
<text transform="translate(497.5,339.3) scale(0.9,1)" font-size="17.4" text-anchor="middle">2</text>
<text transform="translate(499.2,358.1) scale(0.9,1)" font-size="17.4" text-anchor="middle">14</text>
<line x1="497.4" y1="360.4" x2="497.4" y2="391.5"/>
<text transform="translate(488.0,463.2) scale(0.9,1)" font-size="17.4" text-anchor="middle">5</text>
<line x1="487.7" y1="429.5" x2="487.7" y2="448.0"/>
<text transform="translate(453.3,482.7) scale(0.9,1)" font-size="17.4" text-anchor="middle">37</text>
<line x1="453.5" y1="451.2" x2="453.5" y2="467.4"/>
</g>
</svg>
</body>
</html>
